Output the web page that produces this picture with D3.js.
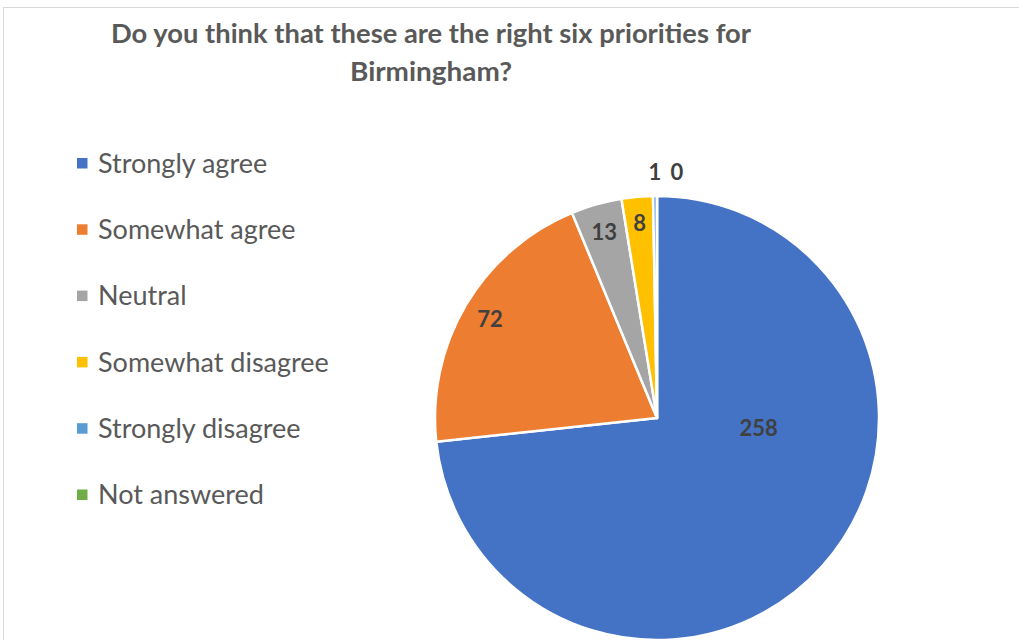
<!DOCTYPE html>
<html>
<head>
<meta charset="utf-8">
<script src="https://cdn.jsdelivr.net/npm/d3@7"></script>
<style>
  html, body { margin: 0; padding: 0; background: #fff; }
  svg { display: block; }
</style>
</head>
<body>
<div class="chart"></div>
<script>
const TITLE = ["Do you think that these are the right six priorities for", "Birmingham?"];
const TITLE_WIDTHS = [640, 162];
const categories = ["Strongly agree", "Somewhat agree", "Neutral", "Somewhat disagree", "Strongly disagree", "Not answered"];
const values = [258, 72, 13, 8, 1, 0];
const colors = ["#4472C4", "#ED7D31", "#A5A5A5", "#FFC000", "#5B9BD5", "#70AD47"];

const WIDTH = 1019;
const HEIGHT = 640;
const CX = 657;
const CY = 418;
const RADIUS = 222;
const LEGEND_X = 77;
const LEGEND_Y = 163;
const LEGEND_STEP = 66.3;

// label placement: fraction of radius, and optional angle (deg) override
const labelRadius = [0.46, 0.875, 0.87, 0.88, 1.11, 1.11];
const labelAngle = [95.6, null, null, null, null, null];
const labelShift = [0, 0, 0, 0, 0, 20];

const svg = d3.create("svg")
  .attr("width", WIDTH)
  .attr("height", HEIGHT);

svg.append("rect")
  .attr("x", 3.5)
  .attr("y", 7.5)
  .attr("width", WIDTH + 20)
  .attr("height", HEIGHT + 20)
  .style("fill", "#fff")
  .style("stroke", "#D9D9D9")
  .style("stroke-width", 1);

// Title
svg.append("g")
  .selectAll("text")
  .data(TITLE)
  .join("text")
  .attr("x", 431)
  .attr("y", (d, i) => 43 + i * 38)
  .attr("text-anchor", "middle")
  .attr("textLength", (d, i) => TITLE_WIDTHS[i])
  .attr("lengthAdjust", "spacingAndGlyphs")
  .style("font-family", "Lato, 'Open Sans', sans-serif")
  .style("font-weight", "bold")
  .style("font-size", "27.5px")
  .style("fill", "#595959")
  .text(d => d);

// Legend
const legend = svg.append("g")
  .selectAll("g")
  .data(categories)
  .join("g")
  .attr("transform", (d, i) => `translate(${LEGEND_X}, ${LEGEND_Y + i * LEGEND_STEP})`);

legend.append("rect")
  .attr("x", 0)
  .attr("y", -5)
  .attr("width", 10.5)
  .attr("height", 10.5)
  .style("fill", (d, i) => colors[i]);

legend.append("text")
  .attr("x", 21)
  .attr("y", 0)
  .attr("dy", "0.36em")
  .style("font-family", "Lato, 'Open Sans', sans-serif")
  .style("font-size", "27px")
  .style("fill", "#595959")
  .text(d => d);

// Pie
const pie = d3.pie().sort(null).value(d => d);
const arcs = pie(values);
const arc = d3.arc().innerRadius(0).outerRadius(RADIUS);

const chart = svg.append("g")
  .attr("transform", `translate(${CX}, ${CY})`);

chart.append("g")
  .selectAll("path")
  .data(arcs)
  .join("path")
  .attr("d", arc)
  .style("fill", (d, i) => colors[i])
  .style("stroke", "#fff")
  .style("stroke-width", 2.5)
  .style("stroke-linejoin", "round");

const labelPos = (d, i) => {
  const a = labelAngle[i] != null ? labelAngle[i] * Math.PI / 180 : (d.startAngle + d.endAngle) / 2;
  const r = RADIUS * labelRadius[i];
  return [Math.sin(a) * r + labelShift[i], -Math.cos(a) * r];
};

chart.append("g")
  .selectAll("text")
  .data(arcs)
  .join("text")
  .attr("x", (d, i) => labelPos(d, i)[0])
  .attr("y", (d, i) => labelPos(d, i)[1])
  .attr("dy", "0.36em")
  .attr("text-anchor", "middle")
  .style("font-family", "Lato, 'Open Sans', sans-serif")
  .style("font-weight", "bold")
  .style("font-size", "22px")
  .style("fill", "#404040")
  .text(d => d.data);

document.querySelector(".chart").append(svg.node());
</script>
</body>
</html>
